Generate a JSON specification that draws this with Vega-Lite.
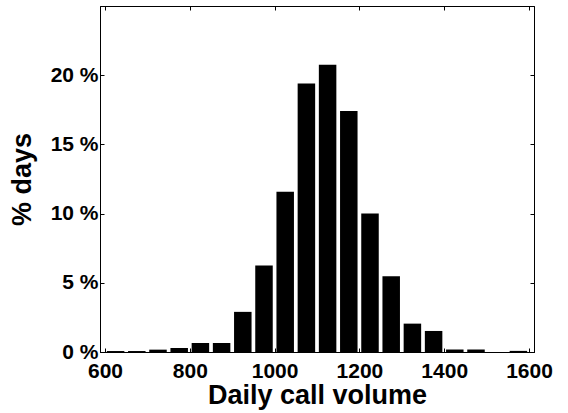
{
  "$schema": "https://vega.github.io/schema/vega-lite/v6.json",
  "autosize": "none",
  "width": 434,
  "height": 346,
  "padding": {"left": 100, "top": 6, "right": 34, "bottom": 61},
  "background": "white",
  "config": {
    "font": "Liberation Sans",
    "view": {"stroke": "black", "strokeWidth": 1},
    "axis": {
      "domainColor": "black",
      "tickColor": "black",
      "labelColor": "black",
      "titleColor": "black",
      "labelFont": "Liberation Sans",
      "titleFont": "Liberation Sans",
      "labelFontWeight": "bold",
      "titleFontWeight": "bold",
      "labelFontSize": 21,
      "titleFontSize": 27,
      "grid": false,
      "tickSize": -4,
      "labelPadding": 6
    }
  },
  "data": {
    "values": [
      {"calls": 625, "pct": 0.07},
      {"calls": 675, "pct": 0.07},
      {"calls": 725, "pct": 0.17},
      {"calls": 775, "pct": 0.29},
      {"calls": 825, "pct": 0.65},
      {"calls": 875, "pct": 0.65},
      {"calls": 925, "pct": 2.9},
      {"calls": 975, "pct": 6.25},
      {"calls": 1025, "pct": 11.57},
      {"calls": 1075, "pct": 19.4},
      {"calls": 1125, "pct": 20.75},
      {"calls": 1175, "pct": 17.41},
      {"calls": 1225, "pct": 10.0},
      {"calls": 1275, "pct": 5.48},
      {"calls": 1325, "pct": 2.05},
      {"calls": 1375, "pct": 1.52},
      {"calls": 1425, "pct": 0.18},
      {"calls": 1475, "pct": 0.18},
      {"calls": 1525, "pct": 0.0},
      {"calls": 1575, "pct": 0.08}
    ]
  },
  "layer": [
    {
      "mark": {"type": "bar", "color": "black", "size": 17.5},
      "encoding": {
        "x": {
          "field": "calls",
          "type": "quantitative",
          "scale": {"domain": [600, 1600], "nice": false, "zero": false},
          "axis": {
            "orient": "bottom",
            "title": "Daily call volume",
            "values": [600, 800, 1000, 1200, 1400, 1600],
            "format": "d",
            "labelPadding": 12,
            "titlePadding": 1
          }
        },
        "y": {
          "field": "pct",
          "type": "quantitative",
          "scale": {"domain": [0, 25], "nice": false},
          "axis": {
            "orient": "left",
            "title": "% days",
            "values": [0, 5, 10, 15, 20],
            "labelExpr": "datum.value + ' %'",
            "titlePadding": 14
          }
        }
      }
    },
    {
      "mark": {"type": "bar", "opacity": 0},
      "encoding": {
        "x": {
          "field": "calls",
          "type": "quantitative",
          "scale": {"domain": [600, 1600], "nice": false, "zero": false},
          "axis": {
            "orient": "top",
            "title": null,
            "labels": false,
            "values": [600, 800, 1000, 1200, 1400, 1600]
          }
        },
        "y": {
          "field": "pct",
          "type": "quantitative",
          "scale": {"domain": [0, 25], "nice": false},
          "axis": {
            "orient": "right",
            "title": null,
            "labels": false,
            "values": [0, 5, 10, 15, 20]
          }
        }
      }
    }
  ],
  "resolve": {"axis": {"x": "independent", "y": "independent"}}
}
